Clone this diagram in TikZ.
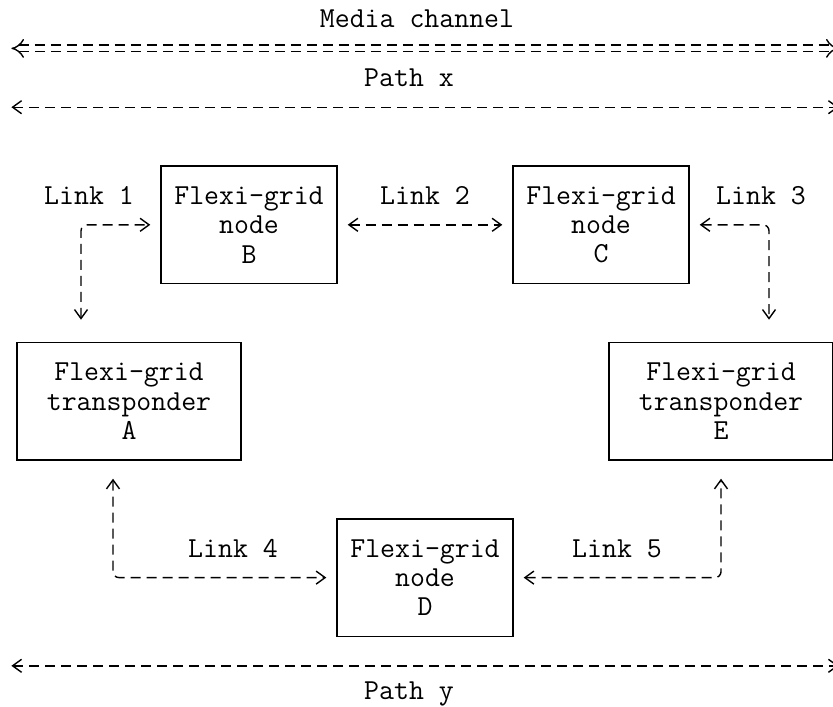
\documentclass[tikz,border=0pt]{standalone}
\usetikzlibrary{arrows.meta}

\newcommand{\ttlabel}{\fontsize{14.5}{14.7}\selectfont\ttfamily}

\tikzstyle{flexi-node}=[rectangle, draw, line width=0.7pt, minimum width=88pt,
                        minimum height=58.8pt, inner sep=0pt, align=center,
                        font=\ttlabel]
\tikzstyle{transponder}=[flexi-node, minimum width=112pt]
\tikzstyle{link-label}=[inner sep=0pt, text height=8.8pt, text depth=0pt,
                        font=\ttlabel]
\tikzstyle{link} = [draw, line width=0.7pt, dash pattern=on 5pt off 3pt,
                    rounded corners=3pt, shorten <=5pt, shorten >=5pt,
                    {Straight Barb[length=4.5pt,width=6.5pt]}-{Straight Barb[length=4.5pt,width=6.5pt]}]
\tikzstyle{path-line} = [link, shorten <=0pt, shorten >=0pt]
\tikzstyle{channel} = [draw, line width=0.7pt, double, double distance=2.6pt,
                       dash pattern=on 5pt off 3pt, {Implies}-{Implies}]

\begin{document}
\begin{tikzpicture}[x=8pt, y=-14.7pt]
    \useasboundingbox (-1.0625,-0.646) rectangle (51,23.4);
    % First we draw the boxes
    \foreach \pos/\name in {{(14.5,7)/B}, {(36.5,7)/C}, {(25.5,19)/D}}
      \node[flexi-node] (\name) at \pos {Flexi-grid\\node\\\name};
    \foreach \pos/\name in {{(7,13)/A}, {(44,13)/E}}
      \node[transponder] (\name) at \pos {Flexi-grid\\transponder\\\name};
    % Then the names of the links and paths
    \foreach \pos/\name/\txt in {{(25,0)/media/Media channel},
        {(24.5,2)/path-x/Path x}, {(24.5,22.86)/path-y/Path y},
        {(4.5,6)/link-1/Link 1}, {(25.5,6)/link-2/Link 2},
        {(46.5,6)/link-3/Link 3}, {(13.5,18)/link-4/Link 4},
        {(37.5,18)/link-5/Link 5}}
      \node[link-label] (\name) at \pos {\txt};
    % Free ends of the long arrows and corners of the bent links
    \coordinate (ch-l) at (-0.35,1);
    \coordinate (ch-r) at (51.35,1);
    \coordinate (px-l) at (-0.35,3);
    \coordinate (px-r) at (51.35,3);
    \coordinate (py-l) at (-0.35,22);
    \coordinate (py-r) at (51.35,22);
    \coordinate (k1) at (4,7);
    \coordinate (k3) at (47,7);
    \coordinate (k4) at (6,19);
    \coordinate (k5) at (44,19);
    % Connect the boxes
    \path[channel] (ch-l) -- (ch-r);
    \path[path-line] (px-l) -- (px-r);
    \path[path-line] (py-l) -- (py-r);
    \path[link, shorten <=11pt] (A.north -| k1) |- (B);
    \path[link] (B) -- (C);
    \path[link, shorten >=11pt] (C) -| (E.north -| k3);
    \path[link, shorten <=9pt] (A.south -| k4) |- (D);
    \path[link, shorten >=9pt] (D) -| (E.south -| k5);
\end{tikzpicture}
\end{document}
